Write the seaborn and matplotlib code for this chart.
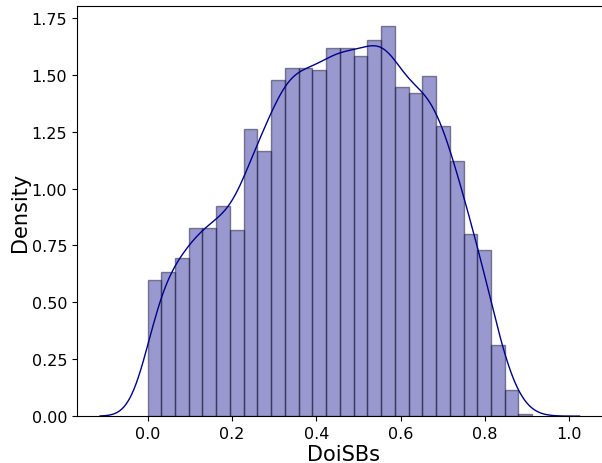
import numpy as np
import pandas as pd
import seaborn as sns
from matplotlib import pyplot as plt

# histogram (density per bin)
bin_lo = 0.0
bin_hi = 0.912
n_bins = 28
density = [0.598, 0.632, 0.696, 0.827, 0.827, 0.925, 0.818,
           1.261, 1.167, 1.478, 1.533, 1.529, 1.523, 1.618,
           1.621, 1.583, 1.655, 1.716, 1.448, 1.420, 1.494,
           1.274, 1.120, 0.800, 0.730, 0.311, 0.114, 0.010]

edges = np.linspace(bin_lo, bin_hi, n_bins + 1)
centers = (edges[:-1] + edges[1:]) / 2
df = pd.DataFrame({'DoiSBs': centers, 'w': density})

fig = plt.figure(figsize=(6.02, 4.64), dpi=100)
ax = fig.add_axes([0.128, 0.101, 0.885, 0.883])

sns.histplot(data=df, x='DoiSBs', weights='w', bins=n_bins,
             binrange=(bin_lo, bin_hi), stat='density',
             kde=True, color='darkblue', alpha=0.4,
             edgecolor=(0.1, 0.1, 0.2, 0.5),
             kde_kws={'bw_adjust': 0.34, 'cut': 2.75},
             line_kws={'linewidth': 1}, ax=ax)

# right edge of the axes falls outside the figure in the original
ax.spines['right'].set_visible(False)
ax.set_xlim(-0.167, 1.096)
ax.set_xlabel('DoiSBs', fontsize=15, labelpad=2)
ax.set_ylabel('Density', fontsize=15, labelpad=1)
ax.tick_params(labelsize=11.5)

fig.savefig('out.png', dpi=100)
